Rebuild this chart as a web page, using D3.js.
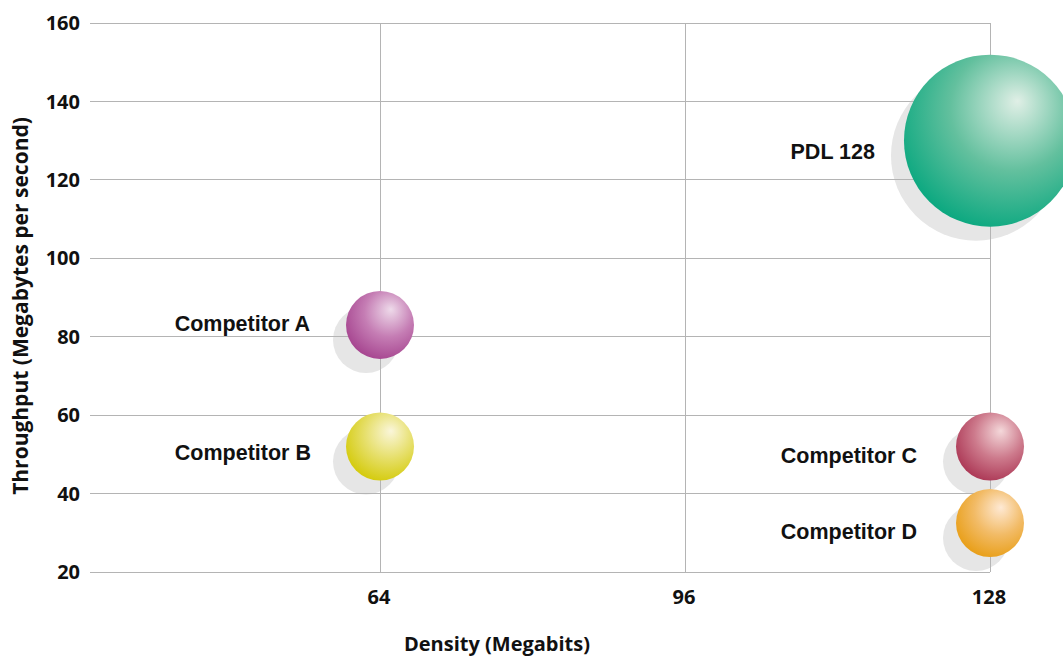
<!DOCTYPE html>
<html>
<head>
<meta charset="utf-8">
<script src="https://cdn.jsdelivr.net/npm/d3@7"></script>
<style>
  html, body { margin: 0; padding: 0; background: #fff; }
  svg { display: block; }
</style>
</head>
<body>
<svg id="chart" width="1063" height="656"></svg>
<script>
// Products compared by memory density and sustained throughput
const products   = ["Competitor A", "Competitor B", "PDL 128", "Competitor C", "Competitor D"];
const densityMb  = [64, 64, 128, 128, 128];          // Megabits
const throughput = [83, 52, 130, 52, 32.5];          // Megabytes per second
const bubbleSize = [1, 1, 6.4, 1, 1];                // relative bubble area
const baseColors = ["#a23e8b", "#d2c800", "#00a57c", "#a8304f", "#e79b0e"];
const midColors  = ["#c57db4", "#e6df6a", "#63c09e", "#cd7a8c", "#f2bb66"];
const hiColors   = ["#eedaea", "#faf6da", "#e0efe6", "#f4d8da", "#fee9d4"];

const xTicks = [64, 96, 128];
const yTicks = [20, 40, 60, 80, 100, 120, 140, 160];

// Label placement beside each bubble (gap from bubble edge, baseline shift)
const labelGap = [36, 35, 29, 39, 39];
const labelDy  = [6, 13, 18, 16, 16];

const svg = d3.select("#chart");

const x = d3.scaleLinear().domain([32, 128]).range([75, 990]);
const y = d3.scaleLinear().domain([20, 160]).range([572, 23]);
const r = d3.scaleSqrt().domain([0, 1]).range([0, 34]);

const gridLeft = 90;
const axisFont = "'Open Sans', 'Noto Sans', sans-serif";
const labelFont = "'Liberation Sans', Arial, Helvetica, sans-serif";

// Sphere shading
const defs = svg.append("defs");
products.forEach((p, i) => {
  const g = defs.append("radialGradient")
    .attr("id", "ball" + i)
    .attr("cx", 0.6).attr("cy", 0.36).attr("r", 0.72)
    .attr("fx", 0.66).attr("fy", 0.27);
  g.append("stop").attr("offset", "0%").attr("stop-color", hiColors[i]);
  g.append("stop").attr("offset", "50%").attr("stop-color", midColors[i]);
  g.append("stop").attr("offset", "100%").attr("stop-color", baseColors[i]);
});

const rows = products.map((p, i) => ({
  name: p, d: densityMb[i], t: throughput[i], s: bubbleSize[i], i
}));

// Drop shadows
svg.append("g").selectAll("circle")
  .data(rows)
  .join("circle")
  .attr("cx", d => x(d.d) - 14)
  .attr("cy", d => y(d.t) + 15)
  .attr("r", d => r(d.s) - 1)
  .attr("fill", "#e6e6e6");

// Horizontal gridlines
svg.append("g").selectAll("line")
  .data(yTicks)
  .join("line")
  .attr("x1", gridLeft).attr("x2", x(128))
  .attr("y1", d => y(d)).attr("y2", d => y(d))
  .attr("stroke", "#b4b4b4").attr("stroke-width", 1)
  .attr("shape-rendering", "crispEdges");

// Vertical gridlines
svg.append("g").selectAll("line")
  .data(xTicks)
  .join("line")
  .attr("x1", d => x(d)).attr("x2", d => x(d))
  .attr("y1", y(160)).attr("y2", y(20))
  .attr("stroke", "#b4b4b4").attr("stroke-width", 1)
  .attr("shape-rendering", "crispEdges");

// Y tick labels
svg.append("g").selectAll("text")
  .data(yTicks)
  .join("text")
  .attr("x", 80).attr("y", d => y(d))
  .attr("dy", "0.36em")
  .attr("text-anchor", "end")
  .attr("font-family", axisFont).attr("font-weight", 700).attr("font-size", 20)
  .attr("fill", "#111")
  .text(d => d);

// X tick labels
svg.append("g").selectAll("text")
  .data(xTicks)
  .join("text")
  .attr("x", d => x(d) - 1).attr("y", 604)
  .attr("text-anchor", "middle")
  .attr("font-family", axisFont).attr("font-weight", 700).attr("font-size", 20)
  .attr("fill", "#111")
  .text(d => d);

// Axis titles
svg.append("text")
  .attr("x", 497).attr("y", 651)
  .attr("text-anchor", "middle")
  .attr("font-family", axisFont).attr("font-weight", 700).attr("font-size", 20)
  .attr("fill", "#111")
  .text("Density (Megabits)");

svg.append("text")
  .attr("transform", "translate(28,306) rotate(-90)")
  .attr("text-anchor", "middle")
  .attr("font-family", axisFont).attr("font-weight", 700).attr("font-size", 21)
  .attr("fill", "#111")
  .text("Throughput (Megabytes per second)");

// Bubbles
svg.append("g").selectAll("circle")
  .data(rows)
  .join("circle")
  .attr("cx", d => x(d.d))
  .attr("cy", d => y(d.t))
  .attr("r", d => r(d.s))
  .attr("fill", d => `url(#ball${d.i})`);

// Product labels, set to the left of each bubble
svg.append("g").selectAll("text")
  .data(rows)
  .join("text")
  .attr("x", d => x(d.d) - r(d.s) - labelGap[d.i])
  .attr("y", d => y(d.t) + labelDy[d.i])
  .attr("text-anchor", "end")
  .attr("font-family", labelFont).attr("font-weight", 700).attr("font-size", 21.5)
  .attr("fill", "#111")
  .text(d => d.name);
</script>
</body>
</html>
